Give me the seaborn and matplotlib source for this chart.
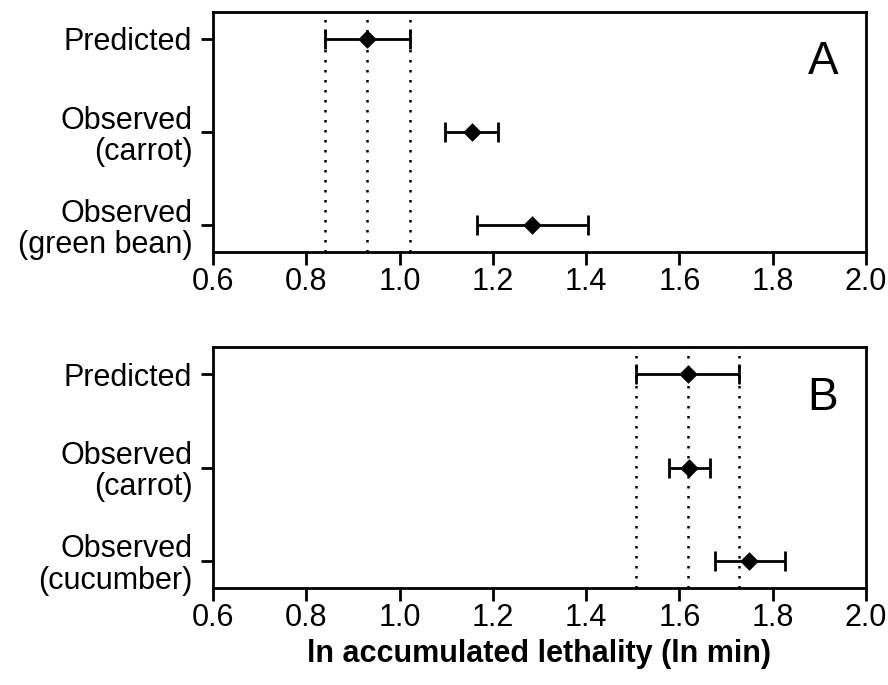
import matplotlib
matplotlib.use("Agg")
import matplotlib.pyplot as plt
import seaborn as sns
import pandas as pd

# Panel A: estimates with lower/upper bounds
cats_a = ["Predicted", "Observed\n(carrot)", "Observed\n(green bean)"]
mid_a = [0.93, 1.155, 1.285]
low_a = [0.84, 1.097, 1.166]
high_a = [1.022, 1.212, 1.404]

# Panel B
cats_b = ["Predicted", "Observed\n(carrot)", "Observed\n(cucumber)"]
mid_b = [1.618, 1.621, 1.750]
low_b = [1.508, 1.578, 1.677]
high_b = [1.728, 1.665, 1.827]

x_ticks = [0.6, 0.8, 1.0, 1.2, 1.4, 1.6, 1.8, 2.0]
x_label = "ln accumulated lethality (ln min)"

sns.set_theme(style="white")
plt.rcParams["font.family"] = ["Liberation Sans", "DejaVu Sans"]

fig = plt.figure(figsize=(8.88, 6.85), dpi=100)
ax_a = fig.add_axes([0.240, 0.632, 0.735, 0.3505])
ax_b = fig.add_axes([0.240, 0.1416, 0.735, 0.3518])


def draw_panel(ax, cats, mid, low, high, letter):
    df = pd.DataFrame({"cat": cats, "mid": mid, "low": low, "high": high})
    df["y"] = range(len(cats))
    # reference lines at the predicted value and its bounds
    for v in (df["low"][0], df["mid"][0], df["high"][0]):
        ax.axvline(v, color="black", linestyle=(0, (1, 3)), linewidth=1.8, zorder=1)
    ax.errorbar(df["mid"], df["y"],
                xerr=[df["mid"] - df["low"], df["high"] - df["mid"]],
                fmt="none", ecolor="black", elinewidth=2, capsize=7,
                capthick=2, zorder=2)
    sns.scatterplot(data=df, x="mid", y="y", marker="D", color="black",
                    s=90, edgecolor="black", linewidth=0, zorder=3, ax=ax)
    ax.set_xlim(0.6, 2.0)
    ax.set_ylim(2.29, -0.29)
    ax.set_xticks(x_ticks)
    ax.set_xticklabels([f"{t:.1f}" for t in x_ticks])
    ax.set_yticks(df["y"])
    ax.set_yticklabels(cats, linespacing=1.05)
    ax.set_xlabel("")
    ax.set_ylabel("")
    ax.tick_params(axis="both", direction="out", length=9, width=2,
                   color="black", labelsize=22, labelcolor="black",
                   bottom=True, left=True, pad=2)
    ax.tick_params(axis="y", pad=6)
    for sp in ax.spines.values():
        sp.set_linewidth(2)
        sp.set_color("black")
    ax.text(0.934, 0.79, letter, transform=ax.transAxes, ha="center",
            va="center", fontsize=33, color="black")


draw_panel(ax_a, cats_a, mid_a, low_a, high_a, "A")
draw_panel(ax_b, cats_b, mid_b, low_b, high_b, "B")
ax_b.set_xlabel(x_label, fontsize=22, fontweight="bold", color="black",
                labelpad=4)

fig.savefig("out.png", dpi=100)
